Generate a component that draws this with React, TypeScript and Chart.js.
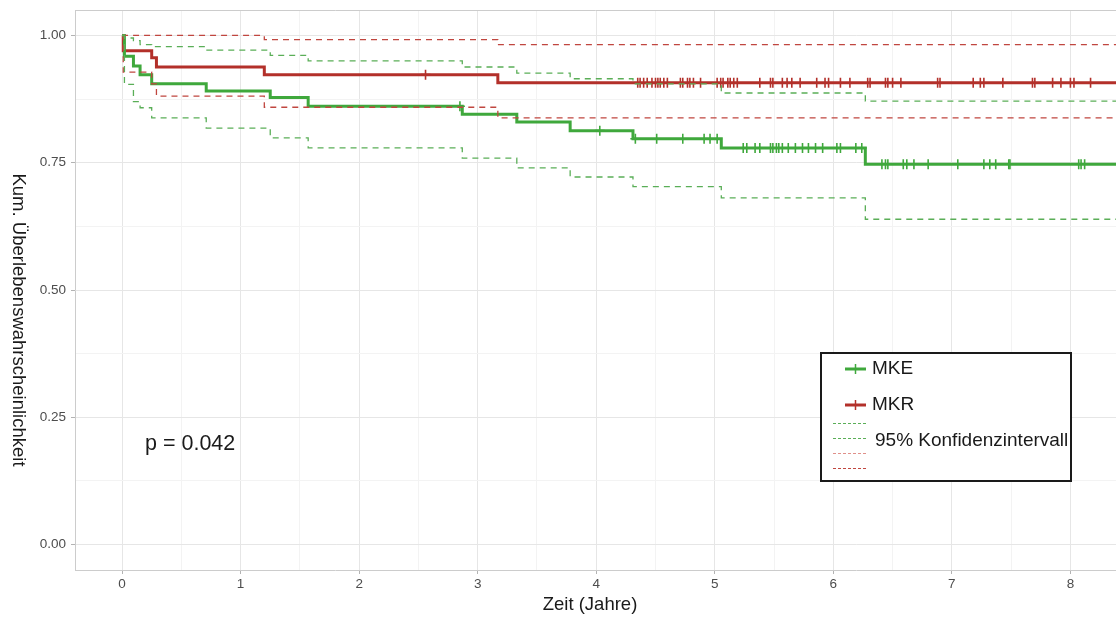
import React, { useEffect, useRef } from "react";
import { Chart, registerables } from "chart.js";

Chart.register(...registerables);

// ---------------- data ----------------
const followUpEnd = 8.6;

const mkeTimes = [0, 0.02, 0.096, 0.152, 0.25, 0.71, 1.25, 1.57, 2.87, 3.33, 3.78, 4.31, 5.055, 6.27];
const mkeSurv = [1.0, 0.959, 0.94, 0.923, 0.905, 0.891, 0.878, 0.861, 0.845, 0.83, 0.813, 0.797, 0.779, 0.747];
const mkeUpper = [1.0, 0.995, 0.99, 0.982, 0.978, 0.971, 0.961, 0.95, 0.938, 0.926, 0.915, 0.905, 0.887, 0.871];
const mkeLower = [1.0, 0.904, 0.87, 0.858, 0.838, 0.818, 0.799, 0.779, 0.759, 0.74, 0.722, 0.703, 0.681, 0.639];

const mkrTimes = [0, 0.01, 0.25, 0.29, 1.2, 3.17];
const mkrSurv = [1.0, 0.97, 0.956, 0.938, 0.923, 0.907];
const mkrUpper = [1.0, 1.0, 1.0, 1.0, 0.992, 0.982];
const mkrLower = [1.0, 0.928, 0.905, 0.881, 0.859, 0.838];

const mkeCensor = [
  2.85, 4.03, 4.33, 4.51, 4.73, 4.91, 4.96, 5.02, 5.24, 5.27, 5.34, 5.38, 5.47, 5.49, 5.52, 5.54,
  5.57, 5.62, 5.68, 5.74, 5.79, 5.85, 5.91, 6.03, 6.06, 6.19, 6.24, 6.41, 6.44, 6.46, 6.59, 6.62,
  6.68, 6.8, 7.05, 7.27, 7.32, 7.37, 7.48, 7.49, 8.07, 8.09, 8.12,
];
const mkrCensor = [
  2.56, 4.35, 4.37, 4.4, 4.43, 4.47, 4.5, 4.52, 4.54, 4.57, 4.6, 4.71, 4.73, 4.77, 4.79, 4.82, 4.88,
  5.02, 5.05, 5.07, 5.11, 5.13, 5.16, 5.19, 5.38, 5.47, 5.49, 5.57, 5.61, 5.65, 5.72, 5.86, 5.93,
  5.96, 6.06, 6.14, 6.29, 6.31, 6.44, 6.46, 6.5, 6.57, 6.88, 6.9, 7.18, 7.24, 7.27, 7.43, 7.68,
  7.7, 7.85, 7.92, 8.0, 8.03, 8.17,
];

const xTickValues = [0, 0.5, 1, 1.5, 2, 2.5, 3, 3.5, 4, 4.5, 5, 5.5, 6, 6.5, 7, 7.5, 8];
const yTickValues = [0, 0.125, 0.25, 0.375, 0.5, 0.625, 0.75, 0.875, 1.0];

const seriesNames = ["MKE", "MKR"];
const ciLabel = "95% Konfidenzintervall";
const pValueText = "p = 0.042";
const xTitle = "Zeit (Jahre)";
const yTitle = "Kum. Überlebenswahrscheinlichkeit";

// ---------------- styles ----------------
const GREEN = "#3fa83c";
const RED = "#b3302a";
const GREEN_CI = "#5aae57";
const RED_CI = "#c0463f";
const FONT = "'Liberation Sans', Arial, Helvetica, sans-serif";

function stepPoints(times: number[], vals: number[]) {
  const pts = times.map((t, i) => ({ x: t, y: vals[i] }));
  pts.push({ x: followUpEnd, y: vals[vals.length - 1] });
  return pts;
}

function valueAt(times: number[], vals: number[], t: number) {
  let v = vals[0];
  for (let i = 0; i < times.length; i++) if (times[i] <= t) v = vals[i];
  return v;
}

function censorPoints(times: number[], vals: number[], cens: number[]) {
  return cens.map((t) => ({ x: t, y: valueAt(times, vals, t) }));
}

const overlayPlugin = {
  id: "overlay",
  afterDraw(chart: any) {
    const ctx = chart.ctx;
    const ca = chart.chartArea;
    ctx.save();
    // top border of panel
    ctx.strokeStyle = "#cccccc";
    ctx.lineWidth = 1;
    ctx.beginPath();
    ctx.moveTo(ca.left, ca.top + 0.5);
    ctx.lineTo(ca.right, ca.top + 0.5);
    ctx.stroke();

    // axis titles
    ctx.fillStyle = "#1a1a1a";
    ctx.font = `18.5px ${FONT}`;
    ctx.textAlign = "center";
    ctx.textBaseline = "middle";
    ctx.fillText(xTitle, 590, 605);
    ctx.save();
    ctx.translate(18, 320);
    ctx.rotate(Math.PI / 2);
    ctx.fillText(yTitle, 0, 0);
    ctx.restore();

    // p-value
    ctx.font = `21.5px ${FONT}`;
    ctx.textAlign = "left";
    ctx.fillStyle = "#1a1a1a";
    ctx.fillText(pValueText, 145, 444);

    // legend
    const bx = 821, by = 353, bw = 250, bh = 128;
    ctx.fillStyle = "#ffffff";
    ctx.fillRect(bx, by, bw, bh);
    ctx.strokeStyle = "#1a1a1a";
    ctx.lineWidth = 2;
    ctx.strokeRect(bx, by, bw, bh);

    const drawSolid = (y: number, color: string) => {
      ctx.strokeStyle = color;
      ctx.lineWidth = 3;
      ctx.setLineDash([]);
      ctx.beginPath();
      ctx.moveTo(845, y);
      ctx.lineTo(866, y);
      ctx.stroke();
      ctx.lineWidth = 1.5;
      ctx.beginPath();
      ctx.moveTo(855.5, y - 5);
      ctx.lineTo(855.5, y + 5);
      ctx.stroke();
    };
    drawSolid(369, GREEN);
    drawSolid(405, RED);
    ctx.fillStyle = "#1a1a1a";
    ctx.font = `19px ${FONT}`;
    ctx.fillText(seriesNames[0], 872, 369);
    ctx.fillText(seriesNames[1], 872, 405);

    const dashCols = [GREEN_CI, GREEN_CI, "#e0908a", RED_CI];
    const dashYs = [423, 438, 453, 468];
    ctx.lineWidth = 1;
    ctx.setLineDash([3, 2]);
    dashCols.forEach((c, i) => {
      ctx.strokeStyle = c;
      ctx.beginPath();
      ctx.moveTo(833, dashYs[i] + 0.5);
      ctx.lineTo(868, dashYs[i] + 0.5);
      ctx.stroke();
    });
    ctx.setLineDash([]);
    ctx.font = `19px ${FONT}`;
    ctx.fillText(ciLabel, 875, 441);
    ctx.restore();
  },
};

export default function App() {
  const ref = useRef<HTMLCanvasElement | null>(null);

  useEffect(() => {
    if (!ref.current) return;
    const ciStyle = (color: string) => ({
      borderColor: color,
      borderWidth: 1.3,
      borderDash: [6, 5],
      pointRadius: 0,
      fill: false,
      stepped: "before" as const,
      showLine: true,
    });
    const chart = new Chart(ref.current, {
      type: "scatter",
      data: {
        datasets: [
          { label: "MKE upper", data: stepPoints(mkeTimes, mkeUpper), ...ciStyle(GREEN_CI) },
          { label: "MKE lower", data: stepPoints(mkeTimes, mkeLower), ...ciStyle(GREEN_CI) },
          { label: "MKR upper", data: stepPoints(mkrTimes, mkrUpper), ...ciStyle(RED_CI) },
          { label: "MKR lower", data: stepPoints(mkrTimes, mkrLower), ...ciStyle(RED_CI) },
          {
            label: seriesNames[0],
            data: stepPoints(mkeTimes, mkeSurv),
            borderColor: GREEN,
            borderWidth: 3,
            pointRadius: 0,
            stepped: "before",
            showLine: true,
          },
          {
            label: seriesNames[1],
            data: stepPoints(mkrTimes, mkrSurv),
            borderColor: RED,
            borderWidth: 3,
            pointRadius: 0,
            stepped: "before",
            showLine: true,
          },
          {
            label: "MKE censor",
            data: censorPoints(mkeTimes, mkeSurv, mkeCensor),
            pointStyle: "cross",
            radius: 5,
            borderColor: GREEN,
            borderWidth: 1.6,
            showLine: false,
          },
          {
            label: "MKR censor",
            data: censorPoints(mkrTimes, mkrSurv, mkrCensor),
            pointStyle: "cross",
            radius: 5,
            borderColor: RED,
            borderWidth: 1.6,
            showLine: false,
          },
        ] as any,
      },
      options: {
        animation: false,
        responsive: false,
        events: [],
        layout: { padding: { top: 10, left: 0, right: 0, bottom: 0 } },
        plugins: { legend: { display: false }, tooltip: { enabled: false }, title: { display: false } },
        scales: {
          x: {
            type: "linear",
            min: -0.397,
            max: 8.388,
            afterBuildTicks: (s: any) => {
              s.ticks = xTickValues.map((v) => ({ value: v }));
            },
            afterFit: (s: any) => {
              s.height = 47;
              s.paddingRight = 0;
              s.paddingLeft = 0;
            },
            ticks: {
              autoSkip: false,
              maxRotation: 0,
              padding: 2,
              color: "#4d4d4d",
              font: { family: FONT, size: 13.5 },
              callback: (v: any) => (Number.isInteger(v) ? String(v) : ""),
            },
            grid: {
              color: (c: any) => (Number.isInteger(c.tick?.value) ? "#e6e6e6" : "#f3f3f3"),
              lineWidth: 1,
              tickLength: 4,
              tickColor: (c: any) => (Number.isInteger(c.tick?.value) ? "#b3b3b3" : "rgba(0,0,0,0)"),
            },
            border: { color: "#cccccc", width: 1 },
          },
          y: {
            type: "linear",
            min: -0.05,
            max: 1.05,
            afterBuildTicks: (s: any) => {
              s.ticks = yTickValues.map((v) => ({ value: v }));
            },
            afterFit: (s: any) => {
              s.width = 75;
              s.paddingTop = 0;
              s.paddingBottom = 0;
            },
            ticks: {
              autoSkip: false,
              padding: 5,
              color: "#4d4d4d",
              font: { family: FONT, size: 13.5 },
              callback: (v: any) => (Math.abs((v * 4) % 1) < 1e-9 ? Number(v).toFixed(2) : ""),
            },
            grid: {
              color: (c: any) => (Math.abs((c.tick?.value * 4) % 1) < 1e-9 ? "#e6e6e6" : "#f3f3f3"),
              lineWidth: 1,
              tickLength: 4,
              tickColor: (c: any) =>
                Math.abs((c.tick?.value * 4) % 1) < 1e-9 ? "#b3b3b3" : "rgba(0,0,0,0)",
            },
            border: { color: "#cccccc", width: 1 },
          },
        },
      } as any,
      plugins: [overlayPlugin],
    });
    return () => chart.destroy();
  }, []);

  return (
    <div
      style={{
        position: "fixed",
        left: 0,
        top: 0,
        width: 1116,
        height: 617,
        overflow: "hidden",
        background: "#fff",
      }}
    >
      <canvas ref={ref} width={1123} height={617} style={{ display: "block" }} />
    </div>
  );
}
